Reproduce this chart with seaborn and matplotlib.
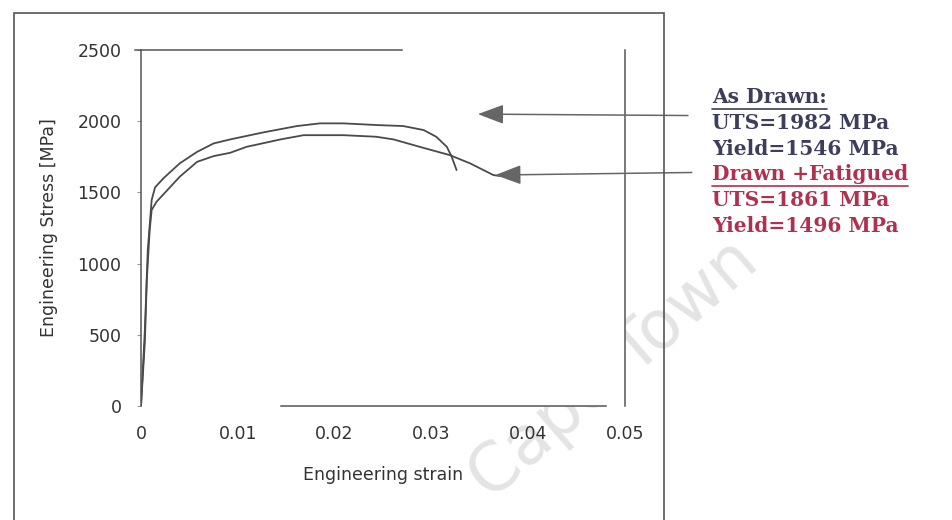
import matplotlib
matplotlib.use("Agg")
import matplotlib.pyplot as plt
from matplotlib.lines import Line2D
from matplotlib.patches import Rectangle
import pandas as pd
import seaborn as sns

# values
strain_drawn = [0, 0.0004, 0.0007, 0.0011, 0.00145, 0.0023, 0.0040, 0.0058, 0.0075, 0.0092,
                0.0126, 0.0161, 0.0185, 0.0209, 0.0244, 0.0271, 0.0292, 0.0305, 0.0316,
                0.0321, 0.0326]
stress_drawn = [0, 534, 1095, 1446, 1535, 1598, 1704, 1785, 1844, 1872,
                1921, 1966, 1985, 1985, 1973, 1966, 1938, 1891, 1820,
                1750, 1657]

strain_fatigued = [0, 0.0004, 0.0006, 0.0009, 0.0011, 0.0016, 0.0040, 0.0058, 0.0075, 0.0092,
                   0.0109, 0.0144, 0.0168, 0.0195, 0.0209, 0.0243, 0.0261, 0.0288, 0.0319,
                   0.0340, 0.0364, 0.0371]
stress_fatigued = [0, 450, 885, 1236, 1376, 1434, 1610, 1715, 1755, 1778,
                   1820, 1872, 1902, 1902, 1902, 1891, 1872, 1820, 1762,
                   1704, 1622, 1615]

x_ticks = [0, 0.01, 0.02, 0.03, 0.04, 0.05]
x_labels = ["0", "0.01", "0.02", "0.03", "0.04", "0.05"]
y_ticks = [0, 500, 1000, 1500, 2000, 2500]

drawn_text = ["As Drawn:", "UTS=1982 MPa", "Yield=1546 MPa"]
fatigued_text = ["Drawn +Fatigued", "UTS=1861 MPa", "Yield=1496 MPa"]

df = pd.concat([
    pd.DataFrame({"strain": strain_drawn, "stress": stress_drawn, "sample": "As Drawn"}),
    pd.DataFrame({"strain": strain_fatigued, "stress": stress_fatigued, "sample": "Drawn +Fatigued"}),
])

sns.set_style("white")
plt.rcParams["font.family"] = ["DejaVu Sans"]

fig = plt.figure(figsize=(9.52, 5.2), dpi=100)
ax = fig.add_axes([0.1481, 0.2192, 0.5084, 0.6846])

sns.lineplot(data=df, x="strain", y="stress", hue="sample", units="sample",
             estimator=None, sort=False, palette=["#4a4a4a", "#4a4a4a"],
             linewidth=1.3, legend=False, ax=ax)

ax.set_xlim(0, 0.05)
ax.set_ylim(0, 2500)
ax.set_xticks(x_ticks)
ax.set_xticklabels(x_labels)
ax.set_yticks(y_ticks)
ax.tick_params(axis="x", direction="in", length=4, width=0.8, color="#777",
               pad=14, labelsize=12.5, labelcolor="#333")
ax.tick_params(axis="y", direction="out", length=3, width=0.8, color="#999",
               pad=11, labelsize=12.5, labelcolor="#333", left=True)
ax.set_xlabel("Engineering strain", fontsize=12.5, color="#333", labelpad=16)
ax.set_ylabel("Engineering Stress [MPa]", fontsize=12.5, color="#333", labelpad=14)

# scanned frame is only partly visible
for s in ax.spines.values():
    s.set_color("#555")
    s.set_linewidth(1.1)
ax.spines["top"].set_bounds(-0.0006, 0.027)
ax.spines["bottom"].set_bounds(0.0145, 0.048)
ax.spines["right"].set_bounds(0, 2500)

# arrows from the notes to the curves
arrow = dict(arrowstyle="-|>,head_length=0.8,head_width=0.3", color="#666",
             lw=1.1, mutation_scale=20, shrinkA=0, shrinkB=0)
ax.annotate("", xy=(0.0348, 2050), xytext=(0.0565, 2040), arrowprops=arrow,
            annotation_clip=False)
ax.annotate("", xy=(0.0366, 1622), xytext=(0.0569, 1640), arrowprops=arrow,
            annotation_clip=False)

# notes on the right
text_x = 712 / 952
line_h = 25.8 / 520
y0 = 1 - 97 / 520
notes = []
for i, t in enumerate(drawn_text + fatigued_text):
    col = "#3d3d5c" if i < 3 else "#b0304f"
    notes.append(fig.text(text_x, y0 - i * line_h, t, fontsize=14.5, fontweight="bold",
                          family="DejaVu Serif", color=col, ha="left", va="center"))

fig.canvas.draw()
r = fig.canvas.get_renderer()
for n in [notes[0], notes[3]]:
    bb = n.get_window_extent(r).transformed(fig.transFigure.inverted())
    fig.add_artist(Line2D([bb.x0, bb.x1], [bb.y0 - 0.004, bb.y0 - 0.004],
                          transform=fig.transFigure, color=n.get_color(), lw=1.2))

# outer frame of the scanned figure
fig.add_artist(Rectangle((14 / 952, -0.02), 650 / 952, 1.02 - 13 / 520,
                         transform=fig.transFigure, fill=False,
                         edgecolor="#555", lw=1.2))

# faint watermark
fig.text(0.645, 0.29, "Cape Town", fontsize=48, color="#e4e4e4", rotation=41,
         ha="center", va="center", zorder=-1)

fig.savefig("out.png", dpi=100)
